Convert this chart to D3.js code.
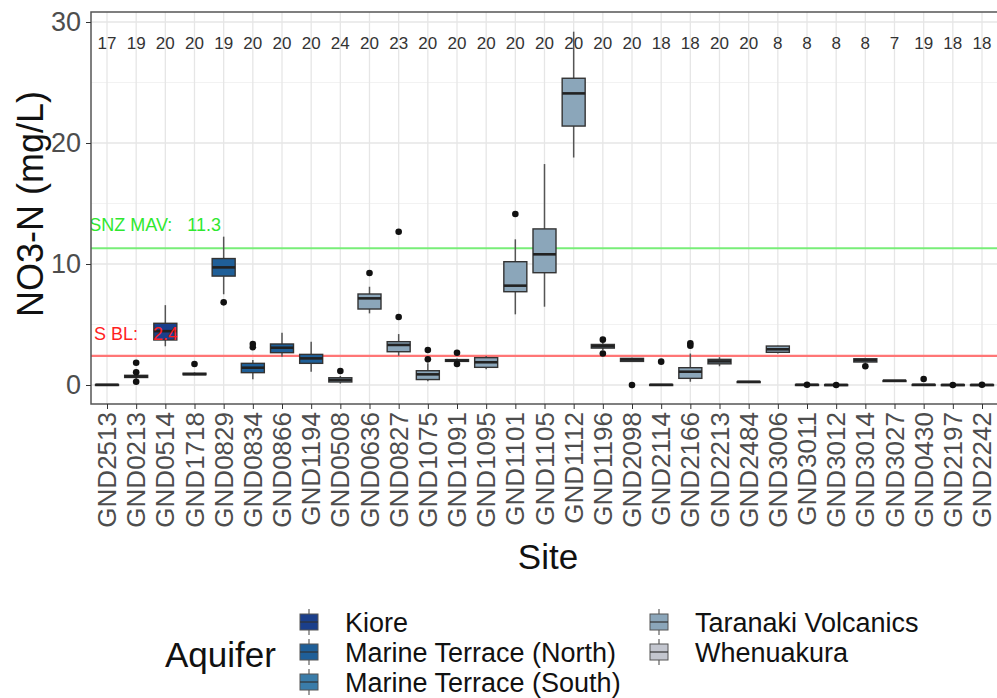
<!DOCTYPE html>
<html>
<head>
<meta charset="utf-8">
<script src="https://cdn.jsdelivr.net/npm/d3@7"></script>
<style>
  html, body { margin: 0; padding: 0; background: #fff; }
  svg { display: block; font-family: "Liberation Sans", Arial, sans-serif; }
</style>
</head>
<body>
<svg id="chart" width="997" height="698"></svg>
<script>
// Nitrate-nitrogen summary by groundwater site
const sites = ["GND2513","GND0213","GND0514","GND1718","GND0829","GND0834","GND0866","GND1194",
  "GND0508","GND0636","GND0827","GND1075","GND1091","GND1095","GND1101","GND1105","GND1112",
  "GND1196","GND2098","GND2114","GND2166","GND2213","GND2484","GND3006","GND3011","GND3012",
  "GND3014","GND3027","GND0430","GND2197","GND2242"];
const aquifers = ["Whenuakura","Marine Terrace (South)","Kiore","Marine Terrace (South)","Marine Terrace (North)",
  "Marine Terrace (North)","Marine Terrace (North)","Marine Terrace (North)",
  "Taranaki Volcanics","Taranaki Volcanics","Taranaki Volcanics","Taranaki Volcanics","Taranaki Volcanics",
  "Taranaki Volcanics","Taranaki Volcanics","Taranaki Volcanics","Taranaki Volcanics","Taranaki Volcanics",
  "Taranaki Volcanics","Taranaki Volcanics","Taranaki Volcanics","Taranaki Volcanics","Whenuakura",
  "Taranaki Volcanics","Taranaki Volcanics","Taranaki Volcanics","Taranaki Volcanics","Whenuakura",
  "Taranaki Volcanics","Taranaki Volcanics","Taranaki Volcanics"];
const counts = [17,19,20,20,19,20,20,20,24,20,23,20,20,20,20,20,20,20,20,18,18,20,20,8,8,8,8,7,19,18,18];
const whiskerLow  = [0.00,0.50,3.20,0.80,7.50,0.47,2.34,1.10,0.12,5.92,2.42,0.30,1.90,1.30,5.84,6.47,18.8,2.90,1.90,0.00,0.27,1.55,0.25,2.60,0.00,0.00,1.85,0.34,0.00,0.00,0.00];
const q1          = [0.01,0.62,3.72,0.85,9.00,1.02,2.67,1.79,0.25,6.28,2.75,0.45,1.95,1.46,7.71,9.28,21.4,3.05,1.95,0.01,0.55,1.75,0.26,2.70,0.01,0.00,1.90,0.35,0.01,0.00,0.00];
const medians     = [0.02,0.70,4.45,0.90,9.72,1.43,3.08,2.20,0.42,7.16,3.31,0.88,2.02,1.88,8.21,10.8,24.1,3.20,2.10,0.02,1.10,1.95,0.27,2.95,0.02,0.01,2.05,0.36,0.02,0.01,0.01];
const q3          = [0.04,0.80,5.10,0.97,10.45,1.79,3.39,2.53,0.60,7.52,3.58,1.18,2.10,2.26,10.19,12.9,25.35,3.35,2.20,0.04,1.43,2.12,0.28,3.22,0.04,0.03,2.17,0.37,0.04,0.03,0.03];
const whiskerHigh = [0.06,0.95,6.60,1.05,12.26,2.07,4.32,3.58,0.75,8.12,4.21,1.79,2.20,2.40,12.04,18.26,29.2,3.50,2.26,0.06,2.60,2.30,0.30,3.25,0.06,0.05,2.25,0.38,0.06,0.05,0.05];
const outliers = [[],[0.27,1.05,1.84],[],[1.74],[6.83],[3.12,3.39],[],[],[1.16],[9.26],[5.62,12.67],
  [2.12,2.89],[1.74,2.67],[],[14.13],[],[],[2.60,3.75],[0.0],[1.93],[3.25,3.45],[],[],[],
  [0.02],[0.0],[1.55],[],[0.5],[0.0],[0.02]];
const yTicks = [0, 10, 20, 30];

// Reference thresholds
const thresholds = [
  { label: "DWSNZ MAV:   11.3", value: 11.3, color: "#2fe82f", line: "#78ee78", end: 221 },
  { label: "NOF S BL:   2.4", value: 2.4, color: "#ff1f1f", line: "#ff7676", end: 178 }
];

const aquiferNames = ["Kiore","Marine Terrace (North)","Marine Terrace (South)","Taranaki Volcanics","Whenuakura"];
const aquiferColors = ["#1b3f8b","#1f5f98","#3a7ca9","#8ba6ba","#c3c6cf"];

const svg = d3.select("#chart");
const panel = { left: 91, top: 12, right: 1010, bottom: 404 };

const x = d3.scalePoint().domain(sites).range([107, 982]);
const y = d3.scaleLinear().domain([0, 30]).range([385, 22]);
const fill = d3.scaleOrdinal().domain(aquiferNames).range(aquiferColors);
const boxW = 23;

svg.append("defs").append("clipPath").attr("id", "panel-clip")
  .append("rect").attr("x", panel.left).attr("y", panel.top)
  .attr("width", panel.right - panel.left).attr("height", panel.bottom - panel.top);

const g = svg.append("g").attr("clip-path", "url(#panel-clip)");

// grid
g.selectAll(".gy-minor").data([5, 15, 25]).join("line")
  .attr("x1", panel.left).attr("x2", panel.right)
  .attr("y1", d => y(d)).attr("y2", d => y(d))
  .attr("stroke", "#f2f2f2").attr("stroke-width", 1);
g.selectAll(".gy").data(yTicks).join("line")
  .attr("x1", panel.left).attr("x2", panel.right)
  .attr("y1", d => y(d)).attr("y2", d => y(d))
  .attr("stroke", "#e6e6e6").attr("stroke-width", 1.3);
g.selectAll(".gx").data(sites).join("line")
  .attr("x1", d => x(d)).attr("x2", d => x(d))
  .attr("y1", panel.top).attr("y2", panel.bottom)
  .attr("stroke", "#e6e6e6").attr("stroke-width", 1.3);

// threshold lines
thresholds.forEach(t => {
  g.append("line").attr("x1", panel.left).attr("x2", panel.right)
    .attr("y1", y(t.value)).attr("y2", y(t.value))
    .attr("stroke", t.line).attr("stroke-width", 2.2);
});

// boxes
const rows = sites.map((s, i) => ({
  site: s, aquifer: aquifers[i], lo: whiskerLow[i], q1: q1[i], med: medians[i],
  q3: q3[i], hi: whiskerHigh[i], out: outliers[i], n: counts[i]
}));

const bx = g.selectAll(".box").data(rows).join("g").attr("class", "box");
bx.append("line").attr("x1", d => x(d.site)).attr("x2", d => x(d.site))
  .attr("y1", d => y(d.q3)).attr("y2", d => y(d.hi))
  .attr("stroke", "#555").attr("stroke-width", 1.5);
bx.append("line").attr("x1", d => x(d.site)).attr("x2", d => x(d.site))
  .attr("y1", d => y(d.q1)).attr("y2", d => y(d.lo))
  .attr("stroke", "#555").attr("stroke-width", 1.5);
bx.append("rect")
  .attr("x", d => x(d.site) - boxW / 2).attr("width", boxW)
  .attr("y", d => y(d.q3)).attr("height", d => Math.max(y(d.q1) - y(d.q3), 1))
  .attr("fill", d => fill(d.aquifer)).attr("stroke", "#333").attr("stroke-width", 1.4);
bx.append("line").attr("x1", d => x(d.site) - boxW / 2).attr("x2", d => x(d.site) + boxW / 2)
  .attr("y1", d => y(d.med)).attr("y2", d => y(d.med))
  .attr("stroke", "#222").attr("stroke-width", 2.6);
bx.selectAll("circle").data(d => d.out.map(v => ({ site: d.site, v }))).join("circle")
  .attr("cx", d => x(d.site)).attr("cy", d => y(d.v)).attr("r", 3.3).attr("fill", "#111");

// threshold labels, anchored at the left edge of the panel
thresholds.forEach((t, i) => {
  g.append("text").attr("x", t.end).attr("y", y(t.value) - (i === 0 ? 17 : 16))
    .attr("text-anchor", "end").attr("fill", t.color).attr("font-size", 18)
    .style("white-space", "pre").text(t.label);
});

// sample counts
g.selectAll(".count").data(rows).join("text")
  .attr("x", d => x(d.site)).attr("y", y(28.3)).attr("dy", "0.35em")
  .attr("text-anchor", "middle").attr("font-size", 17).attr("fill", "#333")
  .text(d => d.n);

// panel border
svg.append("rect").attr("x", panel.left).attr("y", panel.top)
  .attr("width", panel.right - panel.left).attr("height", panel.bottom - panel.top)
  .attr("fill", "none").attr("stroke", "#555").attr("stroke-width", 1.5);

// y axis
const yAxis = svg.append("g").attr("transform", `translate(${panel.left},0)`)
  .call(d3.axisLeft(y).tickValues(yTicks).tickSize(5).tickPadding(5));
yAxis.select(".domain").remove();
yAxis.selectAll(".tick line").attr("stroke", "#333");
yAxis.selectAll(".tick text").attr("font-size", 27).attr("fill", "#4d4d4d")
  .attr("font-family", "Liberation Sans, Arial, sans-serif");

// x axis
const xAxis = svg.append("g").attr("transform", `translate(0,${panel.bottom})`)
  .call(d3.axisBottom(x).tickSize(5).tickPadding(4));
xAxis.select(".domain").remove();
xAxis.selectAll(".tick line").attr("stroke", "#333");
xAxis.selectAll(".tick text").attr("font-size", 26).attr("fill", "#4d4d4d")
  .attr("font-family", "Liberation Sans, Arial, sans-serif")
  .attr("transform", "rotate(-90)").attr("text-anchor", "end")
  .attr("x", -8).attr("y", 0).attr("dy", "0.33em");

// axis titles
svg.append("text").attr("transform", `translate(43,204) rotate(-90)`)
  .attr("text-anchor", "middle").attr("font-size", 36).attr("fill", "#111")
  .text("NO3-N (mg/L)");
svg.append("text").attr("x", 548).attr("y", 569).attr("text-anchor", "middle")
  .attr("font-size", 35).attr("fill", "#111").text("Site");

// legend
const legend = svg.append("g");
legend.append("text").attr("x", 165).attr("y", 667).attr("font-size", 35).attr("fill", "#111").text("Aquifer");
const legendPos = [[309, 622], [309, 652], [309, 682], [659, 622], [659, 652]];
aquiferNames.forEach((name, i) => {
  const [cx, cy] = legendPos[i];
  const k = legend.append("g");
  k.append("line").attr("x1", cx).attr("x2", cx).attr("y1", cy - 13).attr("y2", cy + 13)
    .attr("stroke", "#777").attr("stroke-width", 1.4);
  k.append("rect").attr("x", cx - 9).attr("y", cy - 8).attr("width", 18).attr("height", 16)
    .attr("fill", fill(name)).attr("stroke", "#555").attr("stroke-width", 1);
  k.append("line").attr("x1", cx - 9).attr("x2", cx + 9).attr("y1", cy).attr("y2", cy)
    .attr("stroke", "#333").attr("stroke-width", 1.2);
  k.append("text").attr("x", cx + 36).attr("y", cy).attr("dy", "0.36em")
    .attr("font-size", 27).attr("fill", "#111").text(name);
});
</script>
</body>
</html>
